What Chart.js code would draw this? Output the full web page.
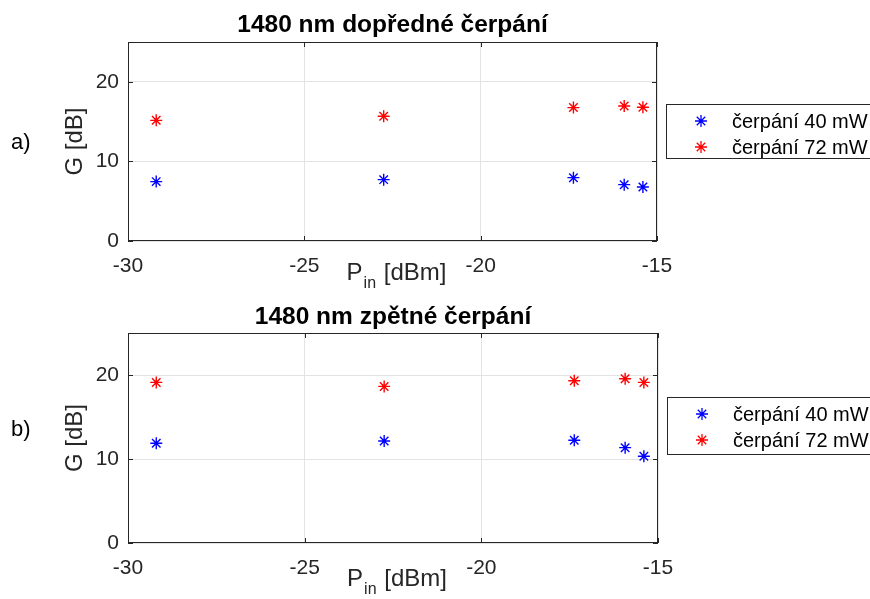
<!DOCTYPE html>
<html>
<head>
<meta charset="utf-8">
<script src="https://cdn.jsdelivr.net/npm/chart.js@4.4.1/dist/chart.umd.min.js"></script>
<style>
  body { margin: 0; background: #fff; }
  .panel { position: absolute; left: 0; }
</style>
</head>
<body>
<div class="panel" style="top:0px"><canvas id="grafA" width="870" height="300"></canvas></div>
<div class="panel" style="top:300px"><canvas id="grafB" width="870" height="299"></canvas></div>
<script>
// dados
var pinVals = [-29.2, -22.75, -17.37, -15.93, -15.4];
var dopredne40 = [7.46, 7.71, 7.96, 7.08, 6.78];
var dopredne72 = [15.16, 15.67, 16.76, 16.96, 16.8];
var zpetne40 = [11.88, 12.15, 12.23, 11.35, 10.32];
var zpetne72 = [19.12, 18.64, 19.32, 19.56, 19.12];
var xTicks = [-30, -25, -20, -15];
var yTicks = [0, 10, 20];
var nazvySerii = ["čerpání 40 mW", "čerpání 72 mW"];

var fonte = '"Liberation Sans", Arial, Helvetica, sans-serif';
var corEixo = "#262626";
Chart.defaults.font.family = fonte;
Chart.defaults.color = corEixo;

function pontos(xs, ys) {
    return xs.map(function (x, i) { return { x: x, y: ys[i] }; });
}

function desenharEstrela(ctx, x, y, r, cor) {
    ctx.save();
    ctx.strokeStyle = cor;
    ctx.lineWidth = 1.3;
    ctx.beginPath();
    for (var k = 0; k < 4; k++) {
        var a = k * Math.PI / 4;
        ctx.moveTo(x - Math.cos(a) * r, y - Math.sin(a) * r);
        ctx.lineTo(x + Math.cos(a) * r, y + Math.sin(a) * r);
    }
    ctx.stroke();
    ctx.restore();
}

// moldura, ticks internos, titulo, legenda, etc
var pluginMatlab = {
    id: "matlab",
    afterDraw: function (chart, args, opts) {
        var ctx = chart.ctx;
        var a = chart.chartArea;
        var sx = chart.scales.x;
        var sy = chart.scales.y;
        ctx.save();

        // caixa
        ctx.strokeStyle = corEixo;
        ctx.lineWidth = 1;
        ctx.strokeRect(a.left + 0.5, a.top + 0.5, a.right - a.left - 1, a.bottom - a.top - 1);

        // ticks para dentro
        ctx.beginPath();
        xTicks.forEach(function (v) {
            var px = Math.round(sx.getPixelForValue(v)) + 0.5;
            ctx.moveTo(px, a.bottom); ctx.lineTo(px, a.bottom - 5);
            ctx.moveTo(px, a.top); ctx.lineTo(px, a.top + 5);
        });
        yTicks.forEach(function (v) {
            var py = Math.round(sy.getPixelForValue(v)) + 0.5;
            ctx.moveTo(a.left, py); ctx.lineTo(a.left + 5, py);
            ctx.moveTo(a.right, py); ctx.lineTo(a.right - 5, py);
        });
        ctx.stroke();

        // titulo
        ctx.fillStyle = "#000";
        ctx.textAlign = "center";
        ctx.textBaseline = "alphabetic";
        ctx.font = "bold 24.5px " + fonte;
        ctx.fillText(opts.titulo, (a.left + a.right) / 2, a.top - opts.tituloGap);

        // rotulo eixo x com subscrito
        ctx.fillStyle = corEixo;
        var cx = (a.left + a.right) / 2 + 3;
        var by = a.bottom + opts.xLabelGap;
        ctx.font = "24px " + fonte;
        var wP = ctx.measureText("P").width;
        var wR = ctx.measureText(" [dBm]").width;
        ctx.font = "16px " + fonte;
        var wS = ctx.measureText("in").width;
        var x0 = cx - (wP + wS + wR) / 2;
        ctx.textAlign = "left";
        ctx.font = "24px " + fonte;
        ctx.fillText("P", x0, by);
        ctx.font = "16px " + fonte;
        ctx.fillText("in", x0 + wP + 1, by + 8);
        ctx.font = "24px " + fonte;
        ctx.fillText(" [dBm]", x0 + wP + wS + 2, by);

        // a) / b)
        ctx.fillStyle = "#000";
        ctx.font = "22px " + fonte;
        ctx.textBaseline = "middle";
        ctx.fillText(opts.pismeno, 11, opts.pismenoY);

        // legenda
        var lx = a.right + 9;
        var ly = a.top + opts.legTop;
        ctx.fillStyle = "#fff";
        ctx.fillRect(lx, ly, 230, opts.legH);
        ctx.strokeStyle = corEixo;
        ctx.strokeRect(lx + 0.5, ly + 0.5, 230, opts.legH);
        ctx.font = "20px " + fonte;
        ctx.fillStyle = "#000";
        chart.data.datasets.forEach(function (ds, i) {
            var ry = ly + 17 + i * 26;
            desenharEstrela(ctx, lx + 35, ry, 6, ds.borderColor);
            ctx.fillText(ds.label, lx + 66, ry + 1);
        });
        ctx.restore();
    }
};

function criarGrafico(idCanvas, d40, d72, opcoes) {
    var config = {
        type: "scatter",
        data: {
            datasets: [
                {
                    label: nazvySerii[0],
                    data: pontos(pinVals, d40),
                    pointStyle: "star",
                    borderColor: "#0000ff",
                    backgroundColor: "#0000ff",
                    pointRadius: 6,
                    borderWidth: 1.4
                },
                {
                    label: nazvySerii[1],
                    data: pontos(pinVals, d72),
                    pointStyle: "star",
                    borderColor: "#ff0000",
                    backgroundColor: "#ff0000",
                    pointRadius: 6,
                    borderWidth: 1.4
                }
            ]
        },
        options: {
            responsive: false,
            animation: false,
            layout: { padding: opcoes.padding },
            plugins: {
                legend: { display: false },
                tooltip: { enabled: false },
                matlab: opcoes.matlab
            },
            scales: {
                x: {
                    type: "linear",
                    min: -30,
                    max: -15,
                    afterBuildTicks: function (s) { s.ticks = xTicks.map(function (v) { return { value: v }; }); },
                    afterFit: function (s) { s.height = 40; },
                    ticks: { font: { size: 21 }, padding: 13, color: corEixo },
                    grid: { color: "#e3e3e3", drawTicks: false },
                    border: { display: false }
                },
                y: {
                    type: "linear",
                    min: 0,
                    max: 25,
                    afterBuildTicks: function (s) { s.ticks = yTicks.map(function (v) { return { value: v }; }); },
                    afterFit: function (s) { s.width = 128; },
                    ticks: { font: { size: 21 }, padding: 9, color: corEixo },
                    grid: { color: "#e3e3e3", drawTicks: false },
                    border: { display: false },
                    title: {
                        display: true,
                        text: "G [dB]",
                        font: { size: 24 },
                        color: corEixo,
                        padding: { top: 61, bottom: 0 }
                    }
                }
            }
        },
        plugins: [pluginMatlab]
    };
    return new Chart(document.getElementById(idCanvas), config);
}

var grafA = criarGrafico("grafA", dopredne40, dopredne72, {
    padding: { left: 0, top: 42, right: 213, bottom: 19 },
    matlab: { titulo: "1480 nm dopředné čerpání", tituloGap: 10, xLabelGap: 39, pismeno: "a)", pismenoY: 143, legTop: 62, legH: 54 }
});

var grafB = criarGrafico("grafB", zpetne40, zpetne72, {
    padding: { left: 0, top: 33, right: 212, bottom: 16 },
    matlab: { titulo: "1480 nm zpětné čerpání", tituloGap: 9, xLabelGap: 43, pismeno: "b)", pismenoY: 130, legTop: 64, legH: 57 }
});
</script>
</body>
</html>
